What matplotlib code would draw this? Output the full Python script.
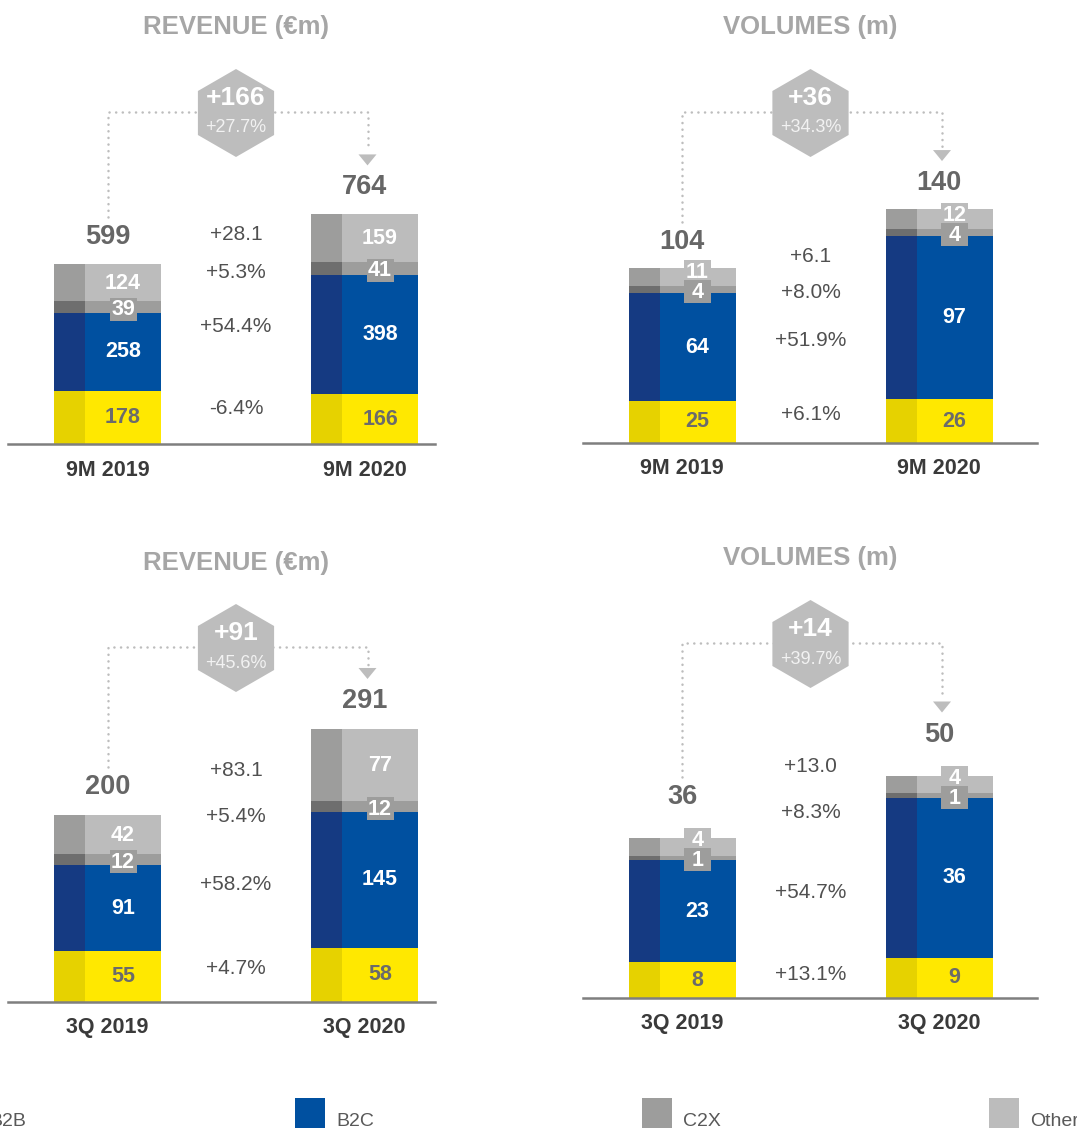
import numpy as np
import matplotlib
matplotlib.use('Agg')
import matplotlib.pyplot as plt
import matplotlib.transforms as mtransforms
from matplotlib.patches import Rectangle, RegularPolygon, Polygon
from matplotlib.lines import Line2D

# data
cats_9m = ['9M 2019', '9M 2020']
cats_3q = ['3Q 2019', '3Q 2020']

rev_9m_b2b = [178, 166]
rev_9m_b2c = [258, 398]
rev_9m_c2x = [39, 41]
rev_9m_other = [124, 159]
rev_9m_total = [599, 764]
rev_9m_changes = ['+28.1', '+5.3%', '+54.4%', '-6.4%']
rev_9m_delta = ['+166', '+27.7%']

vol_9m_b2b = [25, 26]
vol_9m_b2c = [64, 97]
vol_9m_c2x = [4, 4]
vol_9m_other = [11, 12]
vol_9m_total = [104, 140]
vol_9m_changes = ['+6.1', '+8.0%', '+51.9%', '+6.1%']
vol_9m_delta = ['+36', '+34.3%']

rev_3q_b2b = [55, 58]
rev_3q_b2c = [91, 145]
rev_3q_c2x = [12, 12]
rev_3q_other = [42, 77]
rev_3q_total = [200, 291]
rev_3q_changes = ['+83.1', '+5.4%', '+58.2%', '+4.7%']
rev_3q_delta = ['+91', '+45.6%']

vol_3q_b2b = [8, 9]
vol_3q_b2c = [23, 36]
vol_3q_c2x = [1, 1]
vol_3q_other = [4, 4]
vol_3q_total = [36, 50]
vol_3q_changes = ['+13.0', '+8.3%', '+54.7%', '+13.1%']
vol_3q_delta = ['+14', '+39.7%']

legend_names = ['B2B', 'B2C', 'C2X', 'Other']

# colours: (light, dark strip)
YEL = ('#FFE800', '#E6D200')
BLU = ('#0050A0', '#153A82')
C2X = ('#9D9D9C', '#6E6E6E')
OTH = ('#BCBCBC', '#9D9D9C')

W, H, DPI = 1077, 1128, 100
plt.rcParams['font.family'] = ['Liberation Sans', 'DejaVu Sans']

fig = plt.figure(figsize=(W / DPI, H / DPI), dpi=DPI)
fig.patch.set_facecolor('white')
# pixel coords, origin top-left
PX = mtransforms.Affine2D().scale(1 / DPI, -1 / DPI).translate(0, H / DPI) + fig.dpi_scale_trans

UNIT = 257.0   # px between the two bars
BW = 107 / UNIT
SW = 31 / UNIT


def to_px(ax, x, y):
    dx, dy = ax.transData.transform((x, y))
    return dx, H - dy


def ptext(x, y, s, **kw):
    kw.setdefault('ha', 'center')
    kw.setdefault('va', 'center')
    fig.text(x, y, s, transform=PX, **kw)


def dotted(xs, ys):
    fig.add_artist(Line2D(xs, ys, transform=PX, color='#BDBDBD', lw=1.8,
                          linestyle=(0, (0.05, 2.6)), dash_capstyle='round'))


panels = [
    dict(title='REVENUE (€m)', cats=cats_9m, segs=[rev_9m_b2b, rev_9m_b2c, rev_9m_c2x, rev_9m_other],
         total=rev_9m_total, changes=rev_9m_changes, delta=rev_9m_delta,
         left=8, right=435, c0=107.5, base=444, top=0, scale=0.3005,
         title_y=27, hex_y=113, total_gap=27, change_y=[234, 272, 327, 409]),
    dict(title='VOLUMES (m)', cats=cats_9m, segs=[vol_9m_b2b, vol_9m_b2c, vol_9m_c2x, vol_9m_other],
         total=vol_9m_total, changes=vol_9m_changes, delta=vol_9m_delta,
         left=583, right=1037, c0=682, base=443, top=0, scale=1.683,
         title_y=27, hex_y=113, total_gap=26, change_y=[257, 292, 340, 415]),
    dict(title='REVENUE (€m)', cats=cats_3q, segs=[rev_3q_b2b, rev_3q_b2c, rev_3q_c2x, rev_3q_other],
         total=rev_3q_total, changes=rev_3q_changes, delta=rev_3q_delta,
         left=8, right=435, c0=107.5, base=1002, top=540, scale=0.935,
         title_y=563, hex_y=648, total_gap=28, change_y=[771, 817, 885, 968]),
    dict(title='VOLUMES (m)', cats=cats_3q, segs=[vol_3q_b2b, vol_3q_b2c, vol_3q_c2x, vol_3q_other],
         total=vol_3q_total, changes=vol_3q_changes, delta=vol_3q_delta,
         left=583, right=1037, c0=682, base=998, top=540, scale=4.45,
         title_y=558, hex_y=644, total_gap=41, change_y=[767, 812, 893, 974]),
]

colors = [YEL, BLU, C2X, OTH]

for p in panels:
    ax = fig.add_axes([p['left'] / W, 1 - p['base'] / H, (p['right'] - p['left']) / W,
                       (p['base'] - p['top']) / H])
    ax.set_xlim((p['left'] - p['c0']) / UNIT, (p['right'] - p['c0']) / UNIT)
    ax.set_ylim(0, (p['base'] - p['top']) / p['scale'])
    ax.axis('off')

    x = np.arange(2)
    bottom = np.zeros(2)
    edges = []
    for vals, (light, dark) in zip(p['segs'], colors):
        vals = np.array(vals, dtype=float)
        ax.bar(x, vals, BW, bottom, color=light, lw=0, zorder=2)
        ax.bar(x - BW / 2 + SW / 2, vals, SW, bottom, color=dark, lw=0, zorder=2)
        edges.append((bottom.copy(), bottom + vals))
        bottom = bottom + vals
    ax.axhline(0, color='#7F7F7F', lw=1.8, clip_on=False, zorder=3)

    mid_x, _ = to_px(ax, 0.5, 0)
    tops = []
    for i in range(2):
        lx, _ = to_px(ax, i + SW / 2, 0)   # centre of the light part
        cx, _ = to_px(ax, i, 0)
        cen = []
        for lo, hi in edges:
            _, y0 = to_px(ax, i, lo[i])
            _, y1 = to_px(ax, i, hi[i])
            cen.append((y0 + y1) / 2)
        c2x_y = cen[2] + 2
        oth_y = min(cen[3], c2x_y - 20)
        ptext(lx, cen[0], str(p['segs'][0][i]), fontsize=15.5, fontweight='bold', color='#6B6B6B')
        ptext(lx, cen[1], str(p['segs'][1][i]), fontsize=15.5, fontweight='bold', color='white')
        for yy, k in ((oth_y, 3), (c2x_y, 2)):
            fig.add_artist(Rectangle((lx - 13.5, yy - 11.5), 27, 23, transform=PX,
                                     color=colors[k][0], lw=0, zorder=4))
            ptext(lx, yy + 0.5, str(p['segs'][k][i]), fontsize=15.5, fontweight='bold',
                  color='white', zorder=5)
        _, ty = to_px(ax, i, bottom[i])
        label_y = ty - p['total_gap']
        ptext(cx, label_y, str(p['total'][i]), fontsize=19.5, fontweight='bold', color='#666666')
        ptext(cx, p['base'] + 26, p['cats'][i], fontsize=15.5, fontweight='bold', color='#3A3A3A')
        tops.append((cx, label_y))

    # title
    ptext(mid_x, p['title_y'], p['title'], fontsize=18.5, fontweight='bold', color='#A6A6A6')

    # connector with hexagon
    (x0, ly0), (x1, ly1) = tops
    hy = p['hex_y']
    dotted([x0, x0, x1 + 3, x1 + 3], [ly0 - 20, hy - 1, hy - 1, ly1 - 36])
    tip = ly1 - 22
    fig.add_artist(Polygon([(x1 + 3 - 9, tip - 11), (x1 + 3 + 9, tip - 11), (x1 + 3, tip)],
                           closed=True, transform=PX, color='#BDBDBD', lw=0))
    fig.add_artist(RegularPolygon((mid_x / DPI, (H - hy) / DPI), 6, radius=0.44, orientation=0,
                                  transform=fig.dpi_scale_trans, color='#BDBDBD', lw=0, zorder=4))
    ptext(mid_x, hy - 15, p['delta'][0], fontsize=19, fontweight='bold', color='white', zorder=5)
    ptext(mid_x, hy + 15, p['delta'][1], fontsize=13, color='#F2F2F2', zorder=5)

    # change column
    for s, yy in zip(p['changes'], p['change_y']):
        ptext(mid_x, yy, s, fontsize=15, color='#505050')

# legend along the bottom edge (partly cut off, as on the slide)
leg_x = [-52, 295, 642, 989]
for name, (light, _), lx in zip(legend_names, colors, leg_x):
    fig.add_artist(Rectangle((lx, 1098), 30, 32, transform=PX, color=light, lw=0))
    ptext(lx + 41, 1121, name, fontsize=14, color='#595959', ha='left')

fig.savefig('out.png', dpi=DPI, facecolor='white')
